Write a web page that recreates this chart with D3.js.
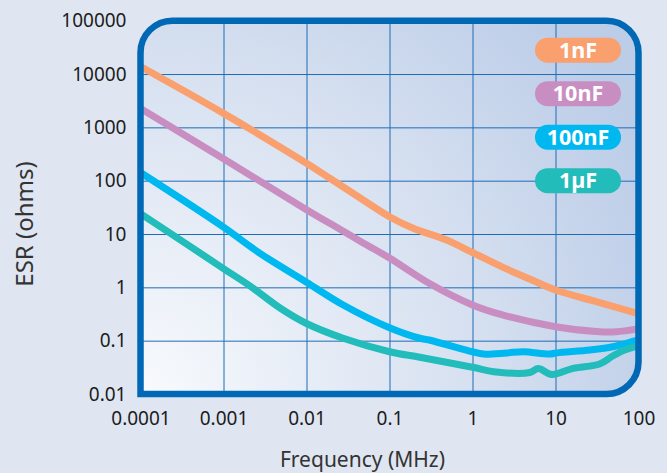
<!DOCTYPE html>
<html>
<head>
  <meta charset="utf-8">
  <script src="https://d3js.org/d3.v7.min.js"></script>
  <style>
    body { margin: 0; background: #dfe6f2; }
    text { font-family: "Noto Sans", "Liberation Sans", sans-serif; }
    .tick text { font-size: 19px; fill: #1c1c1c; }
    .grid line { stroke: #1f6cb6; stroke-width: 1; }
    .grid .domain { display: none; }
  </style>
</head>
<body>
<div id="chartArea"></div>
<script>
// tick values and labels
var freqTicks = [0.0001, 0.001, 0.01, 0.1, 1, 10, 100];
var freqLabels = ["0.0001", "0.001", "0.01", "0.1", "1", "10", "100"];
var esrTicks = [0.01, 0.1, 1, 10, 100, 1000, 10000, 100000];
var esrLabels = ["0.01", "0.1", "1", "10", "100", "1000", "10000", "100000"];

// series
var names = ["1nF", "10nF", "100nF", "1\u00b5F"];
var colors = ["#f9a06e", "#c98ec1", "#00b8f0", "#22bcbb"];

var f1nF = [0.0001, 0.001, 0.01, 0.0191, 0.0482, 0.1, 0.193, 0.488, 1, 2.3, 4.9, 10, 31, 90, 100];
var esr1nF = [13800, 1830, 212, 111, 43.4, 21.1, 12.8, 7.7, 4.5, 2.4, 1.43, 0.89, 0.54, 0.335, 0.32];

var f10nF = [0.0001, 0.001, 0.01, 0.025, 0.0482, 0.1, 0.3, 1, 2.3, 10, 34, 54, 90, 100];
var esr10nF = [2250, 258, 28.6, 12.4, 6.8, 3.55, 1.19, 0.467, 0.303, 0.183, 0.147, 0.147, 0.163, 0.169];

var f100nF = [0.0001, 0.001, 0.00275, 0.01, 0.0277, 0.1, 0.232, 0.3, 1, 1.35, 2.6, 4.1, 8.5, 10.3, 26, 49, 90, 100];
var esr100nF = [142, 13.5, 4.35, 1.25, 0.467, 0.175, 0.111, 0.103, 0.062, 0.056, 0.059, 0.062, 0.056, 0.059, 0.067, 0.077, 0.099, 0.103];

var f1uF = [0.0001, 0.001, 0.0022, 0.0048, 0.01, 0.0277, 0.1, 0.232, 1, 1.95, 4.9, 6.2, 9, 16.3, 34, 49, 68, 100];
var esr1uF = [24.2, 2.25, 1.0, 0.41, 0.21, 0.111, 0.062, 0.0488, 0.0317, 0.0258, 0.0253, 0.030, 0.0232, 0.0303, 0.0366, 0.0515, 0.0668, 0.0794];

var seriesF = [f1nF, f10nF, f100nF, f1uF];
var seriesV = [esr1nF, esr10nF, esr100nF, esr1uF];

var w = 667, h = 473;
var pLeft = 140.5, pRight = 638.5, pTop = 20.7, pBottom = 394;

var xScale = d3.scaleLog().domain([0.0001, 100]).range([pLeft, pRight]);
var yScale = d3.scaleLog().domain([0.01, 100000]).range([pBottom, pTop]);

var svg = d3.select("#chartArea").append("svg")
  .attr("width", w).attr("height", h);

var defs = svg.append("defs");
var grad = defs.append("radialGradient").attr("id", "bg")
  .attr("gradientUnits", "userSpaceOnUse")
  .attr("cx", pLeft).attr("cy", pBottom).attr("r", 560);
grad.append("stop").attr("offset", 0).attr("stop-color", "#f8fafd");
grad.append("stop").attr("offset", 0.6).attr("stop-color", "#d6e0f0");
grad.append("stop").attr("offset", 1).attr("stop-color", "#bccde8");

// frame: three rounded corners, bottom-left square
var r = 32;
var frame = "M" + pLeft + "," + pBottom +
  "L" + pLeft + "," + (pTop + r) +
  "A" + r + "," + r + " 0 0 1 " + (pLeft + r) + "," + pTop +
  "L" + (pRight - r) + "," + pTop +
  "A" + r + "," + r + " 0 0 1 " + pRight + "," + (pTop + r) +
  "L" + pRight + "," + (pBottom - r) +
  "A" + r + "," + r + " 0 0 1 " + (pRight - r) + "," + pBottom + "Z";

defs.append("clipPath").attr("id", "plotClip").append("path").attr("d", frame);

svg.append("path").attr("d", frame).attr("fill", "url(#bg)");

// grid
var plot = svg.append("g").attr("clip-path", "url(#plotClip)");
plot.append("g").attr("class", "grid")
  .attr("transform", "translate(0," + pBottom + ")")
  .call(d3.axisBottom(xScale).tickValues(freqTicks).tickSize(-(pBottom - pTop)).tickFormat(""));
plot.append("g").attr("class", "grid")
  .attr("transform", "translate(" + pLeft + ",0)")
  .call(d3.axisLeft(yScale).tickValues(esrTicks).tickSize(-(pRight - pLeft)).tickFormat(""));

// curves
var line = d3.line()
  .x(function(d) { return xScale(d[0]); })
  .y(function(d) { return yScale(d[1]); })
  .curve(d3.curveCatmullRom.alpha(0.5));

seriesF.forEach(function(fs, i) {
  var pts = fs.map(function(f, j) { return [f, seriesV[i][j]]; });
  plot.append("path")
    .datum(pts)
    .attr("d", line)
    .attr("fill", "none")
    .attr("stroke", colors[i])
    .attr("stroke-width", 7)
    .attr("stroke-linejoin", "round");
});

// frame border on top
svg.append("path").attr("d", frame)
  .attr("fill", "none")
  .attr("stroke", "#0068b4")
  .attr("stroke-width", 6.5);

// axes labels
var xAxis = svg.append("g")
  .attr("transform", "translate(0," + pBottom + ")")
  .call(d3.axisBottom(xScale).tickValues(freqTicks).tickSize(0).tickPadding(17.5)
    .tickFormat(function(d, i) { return freqLabels[i]; }));
xAxis.select(".domain").remove();

var yAxis = svg.append("g")
  .attr("transform", "translate(" + pLeft + ",0)")
  .call(d3.axisLeft(yScale).tickValues(esrTicks).tickSize(0).tickPadding(14)
    .tickFormat(function(d, i) { return esrLabels[i]; }));
yAxis.select(".domain").remove();

svg.append("text")
  .attr("transform", "translate(33," + 224 + ") rotate(-90)")
  .attr("text-anchor", "middle")
  .style("font-size", "24px")
  .attr("fill", "#333")
  .text("ESR (ohms)");

svg.append("text")
  .attr("x", 362.5).attr("y", 467)
  .attr("text-anchor", "middle")
  .style("font-size", "21px")
  .attr("fill", "#333")
  .text("Frequency (MHz)");

// legend pills
var legend = svg.append("g");
names.forEach(function(n, i) {
  var cy = 50.2 + i * 43.5;
  legend.append("rect")
    .attr("x", 535).attr("y", cy - 12.5)
    .attr("width", 86).attr("height", 25)
    .attr("rx", 12.5)
    .attr("fill", colors[i]);
  legend.append("text")
    .attr("x", 578).attr("y", cy)
    .attr("dy", "0.36em")
    .attr("text-anchor", "middle")
    .style("font-size", "21.5px")
    .style("font-weight", "bold")
    .attr("fill", "#fff")
    .text(n);
});
</script>
</body>
</html>
